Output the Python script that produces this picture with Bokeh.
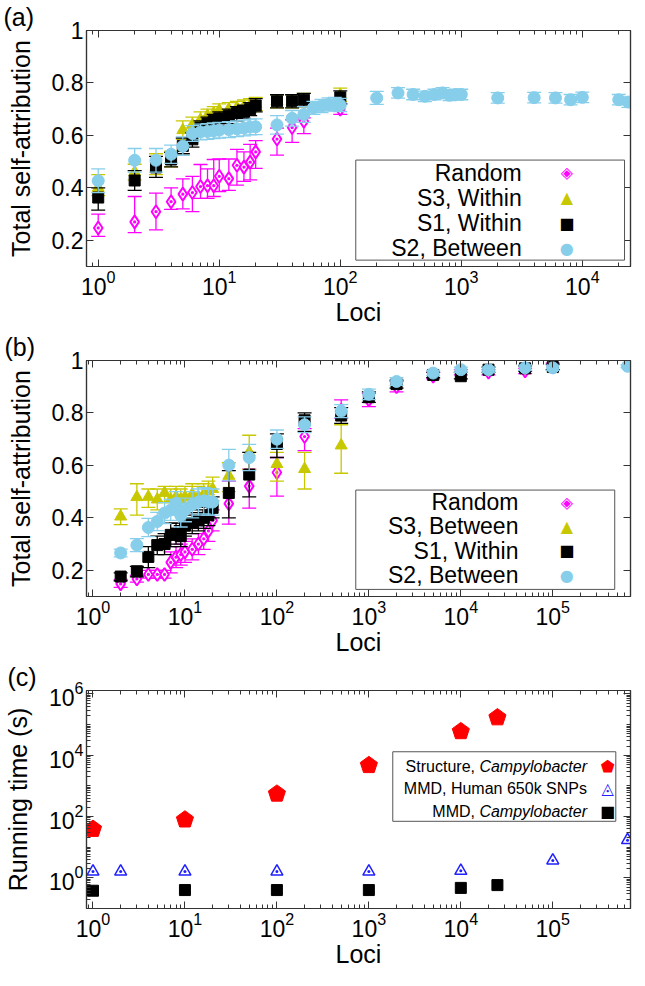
import math
from bokeh.plotting import figure
from bokeh.models import LogAxis, LinearAxis, FixedTicker, Label, BoxAnnotation, CustomJSTickFormatter
from bokeh.layouts import column
from bokeh.embed import file_html
from bokeh.resources import INLINE

FONT = "Liberation Sans"
MAGENTA = "#FF00FF"
OLIVE = "#C8C800"
BLACK = "#000000"
SKY = "#87CEEB"
RED = "#FF0000"
BLUE = "#1F1FFF"

# ---------------- Panel (a) data ----------------
a_loci = [1, 2, 3, 4, 5, 6, 7, 8, 9, 10, 12, 14, 16, 18, 20, 30, 40, 50, 100]
a_random = [0.247, 0.27, 0.309, 0.347, 0.376, 0.382, 0.405, 0.408, 0.408, 0.444, 0.435, 0.486, 0.479, 0.498, 0.537, 0.586, 0.63, 0.654, 0.70]
a_random_lo = [0.215, 0.229, 0.24, 0.318, 0.32, 0.309, 0.36, 0.36, 0.367, 0.386, 0.39, 0.41, 0.425, 0.43, 0.474, 0.525, 0.573, 0.607, 0.68]
a_random_hi = [0.30, 0.367, 0.38, 0.40, 0.434, 0.444, 0.489, 0.472, 0.508, 0.51, 0.51, 0.547, 0.537, 0.566, 0.58, 0.628, 0.659, 0.667, 0.72]
a_s3 = [0.40, 0.46, 0.48, 0.51, 0.62, 0.64, 0.66, 0.675, 0.685, 0.695, 0.70, 0.705, 0.71, 0.715, 0.72, 0.73, 0.73, 0.735, 0.755]
a_s3_lo = [0.37, 0.43, 0.45, 0.48, 0.585, 0.61, 0.63, 0.645, 0.655, 0.665, 0.675, 0.68, 0.685, 0.69, 0.695, 0.705, 0.705, 0.71, 0.73]
a_s3_hi = [0.45, 0.49, 0.53, 0.54, 0.655, 0.67, 0.69, 0.70, 0.71, 0.72, 0.725, 0.73, 0.735, 0.74, 0.745, 0.755, 0.755, 0.76, 0.78]
a_s1 = [0.363, 0.428, 0.478, 0.508, 0.56, 0.585, 0.63, 0.645, 0.655, 0.665, 0.675, 0.685, 0.69, 0.70, 0.714, 0.73, 0.73, 0.736, 0.745]
a_s1_lo = [0.315, 0.39, 0.44, 0.48, 0.53, 0.555, 0.60, 0.615, 0.625, 0.635, 0.645, 0.655, 0.665, 0.675, 0.69, 0.705, 0.705, 0.71, 0.72]
a_s1_hi = [0.40, 0.466, 0.52, 0.535, 0.59, 0.61, 0.655, 0.67, 0.68, 0.69, 0.70, 0.71, 0.715, 0.725, 0.74, 0.755, 0.755, 0.76, 0.77]
a_s2_loci = [1, 2, 3, 4, 5, 6, 7, 8, 9, 10, 12, 14, 16, 18, 20, 30, 40, 50, 60, 70, 80, 90, 100,
             200, 300, 400, 500, 600, 700, 800, 900, 1000, 2000, 4000, 6000, 8000, 10000, 20000, 24000]
a_s2 = [0.427, 0.505, 0.505, 0.528, 0.559, 0.607, 0.613, 0.615, 0.618, 0.62, 0.622, 0.625, 0.628, 0.632, 0.633,
        0.64, 0.665, 0.68, 0.705, 0.712, 0.718, 0.72, 0.716, 0.743, 0.762, 0.756, 0.749, 0.756, 0.762, 0.753,
        0.756, 0.756, 0.743, 0.744, 0.743, 0.736, 0.745, 0.736, 0.727]
a_s2_err = [0.045, 0.045, 0.045, 0.035, 0.035, 0.03, 0.03, 0.03, 0.03, 0.03, 0.03, 0.03, 0.03, 0.03, 0.03,
            0.035, 0.03, 0.03, 0.025, 0.025, 0.025, 0.025, 0.025, 0.025, 0.02, 0.02, 0.02, 0.02, 0.02, 0.02,
            0.02, 0.02, 0.02, 0.02, 0.02, 0.02, 0.02, 0.02, 0.02]

# ---------------- Panel (b) data ----------------
b_loci = [2, 3, 4, 5, 6, 7, 8, 9, 10, 12, 14, 16, 18, 20, 30, 50, 100, 200, 500, 1000, 2000, 5000, 10000, 20000, 50000, 100000]
b_random = [0.148, 0.167, 0.184, 0.184, 0.184, 0.23, 0.25, 0.26, 0.27, 0.28, 0.30, 0.32, 0.35, 0.39, 0.454, 0.521, 0.573, 0.71, 0.81, 0.85, 0.90, 0.94, 0.955, 0.955, 0.96, 0.975]
b_random_lo = [0.135, 0.155, 0.17, 0.17, 0.17, 0.19, 0.21, 0.22, 0.23, 0.24, 0.26, 0.28, 0.31, 0.35, 0.376, 0.437, 0.483, 0.656, 0.78, 0.824, 0.88, 0.93, 0.945, 0.945, 0.95, 0.965]
b_random_hi = [0.165, 0.18, 0.2, 0.2, 0.2, 0.27, 0.29, 0.30, 0.31, 0.32, 0.34, 0.36, 0.39, 0.43, 0.54, 0.586, 0.63, 0.74, 0.85, 0.875, 0.92, 0.955, 0.965, 0.965, 0.97, 0.99]
b_s3_loci = [2, 3, 4, 5, 6, 7, 8, 9, 10, 12, 14, 16, 18, 20, 30, 50, 100, 200, 500]
b_s3 = [0.405, 0.479, 0.48, 0.47, 0.495, 0.47, 0.48, 0.47, 0.48, 0.49, 0.48, 0.49, 0.50, 0.51, 0.56, 0.65, 0.605, 0.586, 0.676]
b_s3_lo = [0.374, 0.41, 0.44, 0.43, 0.46, 0.43, 0.44, 0.43, 0.44, 0.45, 0.44, 0.45, 0.46, 0.465, 0.50, 0.585, 0.54, 0.51, 0.57]
b_s3_hi = [0.434, 0.53, 0.51, 0.51, 0.52, 0.51, 0.52, 0.51, 0.52, 0.53, 0.52, 0.53, 0.54, 0.555, 0.61, 0.715, 0.65, 0.65, 0.755]
b_s1 = [0.176, 0.196, 0.251, 0.296, 0.30, 0.335, 0.34, 0.33, 0.37, 0.38, 0.39, 0.40, 0.41, 0.438, 0.495, 0.565, 0.682, 0.772, 0.79, 0.86, 0.91, 0.945, 0.94, 0.965, 0.97, 0.975]
b_s1_lo = [0.16, 0.175, 0.21, 0.26, 0.26, 0.29, 0.30, 0.29, 0.33, 0.34, 0.35, 0.36, 0.37, 0.40, 0.40, 0.48, 0.63, 0.73, 0.76, 0.84, 0.895, 0.935, 0.93, 0.955, 0.96, 0.965]
b_s1_hi = [0.19, 0.215, 0.29, 0.33, 0.34, 0.38, 0.38, 0.37, 0.41, 0.42, 0.43, 0.44, 0.45, 0.48, 0.58, 0.65, 0.72, 0.80, 0.82, 0.88, 0.925, 0.955, 0.955, 0.975, 0.98, 0.985]
b_s2_loci = [2, 3, 4, 5, 6, 7, 8, 9, 10, 12, 14, 16, 18, 20, 30, 50, 100, 200, 500, 1000, 2000, 5000, 10000, 20000, 50000, 100000, 650000]
b_s2 = [0.266, 0.296, 0.363, 0.386, 0.418, 0.43, 0.455, 0.41, 0.43, 0.45, 0.46, 0.465, 0.46, 0.46, 0.601, 0.63, 0.70, 0.755, 0.807, 0.871, 0.92, 0.952, 0.965, 0.965, 0.972, 0.972, 0.978]
b_s2_err = [0.015, 0.025, 0.035, 0.035, 0.04, 0.04, 0.045, 0.045, 0.045, 0.05, 0.05, 0.05, 0.05, 0.05, 0.06, 0.05, 0.035, 0.03, 0.025, 0.02, 0.015, 0.01, 0.01, 0.01, 0.01, 0.01, 0.005]

# ---------------- Panel (c) data ----------------
c_struct_loci = [1, 10, 100, 1000, 10000, 25000]
c_struct_time = [39, 79, 550, 4700, 60000, 170000]
c_human_loci = [1, 2, 10, 100, 1000, 10000, 100000, 650000]
c_human_time = [1.6, 1.6, 1.6, 1.6, 1.6, 1.7, 3.7, 17]
c_campy_loci = [1, 10, 100, 1000, 10000, 25000]
c_campy_time = [0.38, 0.40, 0.40, 0.40, 0.47, 0.58]

y_ticks_ab = [0.2, 0.4, 0.6, 0.8, 1.0]

FIG_W = 632


def log_minor(k0, k1):
    return [m * 10.0 ** k for k in range(k0, k1 + 1) for m in range(2, 10)]


def style_axis(ax, labels=True):
    ax.axis_line_color = "#333333"
    ax.axis_line_width = 1.2
    ax.major_tick_line_color = "#333333"
    ax.minor_tick_line_color = "#333333"
    ax.major_tick_in = 7
    ax.major_tick_out = 0
    ax.minor_tick_in = 4
    ax.minor_tick_out = 0
    ax.major_label_text_font = FONT
    ax.major_label_text_color = "black"
    if labels:
        ax.major_label_text_font_size = "23px"
        ax.major_label_standoff = 3
    else:
        ax.formatter = CustomJSTickFormatter(code="return ''")
        ax.major_label_text_font_size = "1px"
        ax.major_label_standoff = 0
    ax.axis_label_text_font = FONT
    ax.axis_label_text_font_size = "25px"
    ax.axis_label_text_font_style = "normal"
    ax.axis_label_text_color = "black"


def make_fig(h, bt, bb, bl, xr, yr, ylog, title, xticks, xminor, yticks, yminor, ylabel):
    p = figure(width=FIG_W, height=h, x_axis_type="log",
               y_axis_type="log" if ylog else "linear",
               x_range=xr, y_range=yr, output_backend="svg", toolbar_location=None,
               min_border_left=bl, min_border_right=2, min_border_top=bt, min_border_bottom=bb,
               title=title)
    p.xgrid.visible = False
    p.ygrid.visible = False
    p.outline_line_color = "#333333"
    p.outline_line_width = 1.2
    p.title.align = "left"
    p.title.offset = -(bl - 1)
    p.title.standoff = 0
    p.title.text_font = FONT
    p.title.text_font_size = "25px"
    p.title.text_font_style = "normal"
    p.title.text_color = "black"

    p.xaxis.ticker = FixedTicker(ticks=xticks, minor_ticks=xminor)
    p.yaxis.ticker = FixedTicker(ticks=yticks, minor_ticks=yminor)
    style_axis(p.xaxis[0])
    style_axis(p.yaxis[0])
    p.xaxis.axis_label = "Loci"
    p.xaxis.axis_label_standoff = 0
    p.yaxis.axis_label = ylabel
    p.yaxis.axis_label_standoff = 14
    if not ylog:
        p.yaxis.major_label_overrides = {1: "1"}

    top = LogAxis(ticker=FixedTicker(ticks=xticks, minor_ticks=xminor))
    style_axis(top, labels=False)
    p.add_layout(top, "above")
    if ylog:
        right = LogAxis(ticker=FixedTicker(ticks=yticks, minor_ticks=yminor))
    else:
        right = LinearAxis(ticker=FixedTicker(ticks=yticks, minor_ticks=yminor))
    style_axis(right, labels=False)
    p.add_layout(right, "right")
    return p


def err_series(p, x, y, lo, hi, color, marker, size, filled=True, cap=14, lw=1.3):
    p.segment(x0=x, y0=lo, x1=x, y1=hi, line_color=color, line_width=lw)
    p.scatter(x=list(x) + list(x), y=list(lo) + list(hi), marker="dash", size=cap,
              line_color=color, line_width=lw)
    if filled:
        p.scatter(x=x, y=y, marker=marker, size=size, fill_color=color, line_color=color)
    else:
        p.scatter(x=x, y=y, marker=marker, size=size, fill_color="white", line_color=color, line_width=2)


def frac_x(xr, f):
    a, b = math.log10(xr[0]), math.log10(xr[1])
    return 10 ** (a + f * (b - a))


def frac_y(yr, f, ylog):
    if ylog:
        a, b = math.log10(yr[0]), math.log10(yr[1])
        return 10 ** (a + f * (b - a))
    return yr[0] + f * (yr[1] - yr[0])


def legend_box(p, xr, yr, ylog, box, text_f, key_f, rows, entries, size, key_size):
    p.add_layout(BoxAnnotation(left=frac_x(xr, box[0]), right=frac_x(xr, box[1]),
                               bottom=frac_y(yr, box[3], ylog), top=frac_y(yr, box[2], ylog),
                               fill_color="white", fill_alpha=1.0,
                               line_color="#555555", line_width=1, line_alpha=1.0))
    for rf, (parts, key, kcol) in zip(rows, entries):
        yy = frac_y(yr, rf, ylog)
        xx = frac_x(xr, text_f)
        off = 0
        for txt, style, width in reversed(parts):
            p.add_layout(Label(x=xx, y=yy, text=txt, text_align="right", text_baseline="middle",
                               text_font=FONT, text_font_size=size, text_font_style=style,
                               x_offset=-off, text_color="black"))
            off += width
        p.add_layout(Label(x=frac_x(xr, key_f), y=yy, text=key, text_align="center",
                           text_baseline="middle", text_font="DejaVu Sans",
                           text_font_size=key_size, text_color=kcol))


# ---------------- Panel (a) ----------------
xr_a = (0.8, 25000)
yr_ab = (0.1, 1.0)
pa = make_fig(330, 30, 64, 84, xr_a, yr_ab, False, "(a)",
              [1, 10, 100, 1000, 10000], log_minor(-1, 4), y_ticks_ab, [], "Total self-attribution")
err_series(pa, a_loci, a_random, a_random_lo, a_random_hi, MAGENTA, "diamond_dot", 13, filled=False)
err_series(pa, a_loci, a_s3, a_s3_lo, a_s3_hi, OLIVE, "triangle", 12)
err_series(pa, a_loci, a_s1, a_s1_lo, a_s1_hi, BLACK, "square", 11)
err_series(pa, a_s2_loci, a_s2, [v - e for v, e in zip(a_s2, a_s2_err)],
           [v + e for v, e in zip(a_s2, a_s2_err)], SKY, "circle", 12)
legend_box(pa, xr_a, yr_ab, False, (0.495, 0.989, 0.451, 0.027), 0.80, 0.883,
           [0.398, 0.291, 0.184, 0.078],
           [([("Random", "normal", 0)], "\u25C8", MAGENTA),
            ([("S3, Within", "normal", 0)], "\u25B2", OLIVE),
            ([("S1, Within", "normal", 0)], "\u25A0", BLACK),
            ([("S2, Between", "normal", 0)], "\u25CF", SKY)],
           "23px", "16px")

# ---------------- Panel (b) ----------------
xr_bc = (0.85, 700000)
pb = make_fig(330, 30, 64, 83, xr_bc, yr_ab, False, "(b)",
              [1, 10, 100, 1000, 10000, 100000], log_minor(-1, 5), y_ticks_ab, [], "Total self-attribution")
err_series(pb, b_loci, b_random, b_random_lo, b_random_hi, MAGENTA, "diamond_dot", 13, filled=False)
err_series(pb, b_s3_loci, b_s3, b_s3_lo, b_s3_hi, OLIVE, "triangle", 12)
err_series(pb, b_loci, b_s1, b_s1_lo, b_s1_hi, BLACK, "square", 11)
err_series(pb, b_s2_loci, b_s2, [v - e for v, e in zip(b_s2, b_s2_err)],
           [v + e for v, e in zip(b_s2, b_s2_err)], SKY, "circle", 12)
legend_box(pb, xr_bc, yr_ab, False, (0.495, 0.971, 0.451, 0.03), 0.794, 0.883,
           [0.40, 0.298, 0.193, 0.089],
           [([("Random", "normal", 0)], "\u25C8", MAGENTA),
            ([("S3, Between", "normal", 0)], "\u25B2", OLIVE),
            ([("S1, Within", "normal", 0)], "\u25A0", BLACK),
            ([("S2, Between", "normal", 0)], "\u25CF", SKY)],
           "23px", "16px")

# ---------------- Panel (c) ----------------
yr_c = (0.1, 1.3e6)
pc = make_fig(310, 30, 60, 80, xr_bc, yr_c, True, "(c)",
              [1, 10, 100, 1000, 10000, 100000], log_minor(-1, 5),
              [1, 100, 10000, 1000000],
              [m * 10.0 ** k for k in range(-1, 7) for m in range(1, 10) if not (m == 1 and k in (0, 2, 4, 6))],
              "Running time (s)")
try:
    pc.ngon(x=c_struct_loci, y=c_struct_time, radius=9, radius_units="screen", n=5,
            fill_color=RED, line_color=RED)
except Exception:
    pc.scatter(x=c_struct_loci, y=c_struct_time, marker="hex", size=16, fill_color=RED, line_color=RED)
pc.scatter(x=c_human_loci, y=c_human_time, marker="triangle_dot", size=12, fill_color="white",
           line_color=BLUE, line_width=1.5)
pc.scatter(x=c_campy_loci, y=c_campy_time, marker="square", size=11, fill_color=BLACK, line_color=BLACK)
legend_box(pc, xr_bc, yr_c, True, (0.563, 0.973, 0.719, 0.40), 0.92, 0.958,
           [0.651, 0.549, 0.443],
           [([("Structure,", "normal", 0), ("Campylobacter", "italic", 112)], "\u2B1F", RED),
            ([("MMD, Human 650k SNPs", "normal", 0)], "\u25EC", BLUE),
            ([("MMD,", "normal", 0), ("Campylobacter", "italic", 112)], "\u25A0", BLACK)],
           "16px", "16px")

layout = column(pa, pb, pc)
open("out.html", "w").write(file_html(layout, INLINE))
